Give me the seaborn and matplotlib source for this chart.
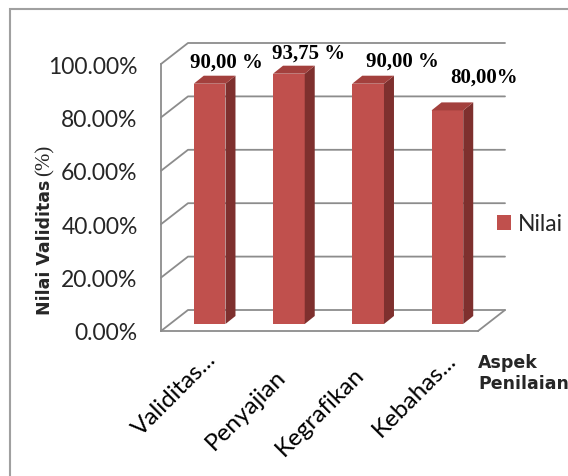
import matplotlib
matplotlib.use("Agg")
import matplotlib.pyplot as plt
import numpy as np
import pandas as pd
import seaborn as sns
from matplotlib.patches import Polygon, Rectangle, Patch
from matplotlib.lines import Line2D
from matplotlib.transforms import IdentityTransform, ScaledTranslation

# ---- data -------------------------------------------------------------
categories = ["Validitas...", "Penyajian", "Kegrafikan", "Kebahas..."]
values = [90.00, 93.75, 90.00, 80.00]
value_suffix = [" %", " %", " %", "%"]
y_ticks = [0, 20, 40, 60, 80, 100]
series_name = "Nilai"
y_title = "Nilai Validitas"
y_unit = "(%)"
x_title = ["Aspek", "Penilaian"]

# ---- layout / style ---------------------------------------------------
W, H, DPI = 568, 477, 100
FRONT, SIDE, TOP = "#C0504D", "#7E302E", "#A3403D"
GRID = "#8C8C8C"
DEPTH = np.array([27.0, 21.0])      # floor depth (px, right / up)
BAR_SHIFT = np.array([9.0, 7.0])    # bars sit a third of the way back
BAR_DEPTH = np.array([10.0, 8.0])   # depth of each column
x_tick_pos = [-0.5, 1.0, 2.5]
label_nudge = [(17, 22), (20, 21.5), (34, 23.5), (37, 33.5)]
cat_nudge = [(5, -18), (-5, -1), (-6, -3), (7, -17)]

sns.set_style("white")
plt.rcParams["font.family"] = ["Lato", "DejaVu Sans"]

fig = plt.figure(figsize=(W / DPI, H / DPI), dpi=DPI)
ident = IdentityTransform()


def img(x, y):
    """image pixel (y down) -> display pixel (y up)"""
    return x, H - y


ax = fig.add_axes([161 / W, (H - 332) / H, 317 / W, 267 / H])
df = pd.DataFrame({"Aspek": categories, "Nilai": values})
sns.barplot(data=df, x="Aspek", y="Nilai", color=FRONT, width=0.4,
            saturation=1, ax=ax, zorder=3)
ax.set_xlim(-0.5, len(categories) - 0.5)
ax.set_ylim(0, 100)
ax.set_xlabel("")
ax.set_ylabel("")

# axis lines and ticks on the front plane
for s in ("top", "right"):
    ax.spines[s].set_visible(False)
for s in ("left", "bottom"):
    ax.spines[s].set_color(GRID)
    ax.spines[s].set_linewidth(1.3)
ax.set_yticks(y_ticks)
ax.set_yticklabels([f"{v:.2f}%" for v in y_ticks])
ax.set_xticks(x_tick_pos)
ax.set_xticklabels([])
ax.tick_params(axis="y", direction="out", length=5.8, width=1.3, color=GRID,
               pad=11, labelsize=16.5)
ax.tick_params(axis="x", direction="out", length=5.0, width=1.3, color=GRID)
ax.set_facecolor("none")

td = ax.transData

# back wall grid lines + left wall diagonals
for v in y_ticks:
    f = td.transform((-0.5, v))
    bl = f + DEPTH
    br = td.transform((len(categories) - 0.5, v)) + DEPTH
    ax.add_line(Line2D([f[0], bl[0], br[0]], [f[1], bl[1], br[1]],
                       transform=ident, color=GRID, lw=1.3, zorder=1,
                       clip_on=False))
# right edge of the floor
fr = td.transform((len(categories) - 0.5, 0))
ax.add_line(Line2D([fr[0], fr[0] + DEPTH[0]], [fr[1], fr[1] + DEPTH[1]],
                   transform=ident, color=GRID, lw=1.3, zorder=1,
                   clip_on=False))

# columns: shift front faces back, then add side and top faces
shift = ScaledTranslation(BAR_SHIFT[0] / DPI, BAR_SHIFT[1] / DPI,
                          fig.dpi_scale_trans)
for i, p in enumerate(ax.patches):
    p.set_transform(td + shift)
    p.set_edgecolor("none")
    p.set_clip_on(False)
    x0, w, h = p.get_x(), p.get_width(), p.get_height()
    lb = td.transform((x0, 0)) + BAR_SHIFT
    rb = td.transform((x0 + w, 0)) + BAR_SHIFT
    lt = td.transform((x0, h)) + BAR_SHIFT
    rt = td.transform((x0 + w, h)) + BAR_SHIFT
    side = [rb, rt, rt + BAR_DEPTH, rb + BAR_DEPTH]
    top = [lt, rt, rt + BAR_DEPTH, lt + BAR_DEPTH]
    ax.add_patch(Polygon(side, closed=True, transform=ident, facecolor=SIDE,
                         edgecolor="none", zorder=3, clip_on=False))
    ax.add_patch(Polygon(top, closed=True, transform=ident, facecolor=TOP,
                         edgecolor="none", zorder=3, clip_on=False))

# value labels
for i, v in enumerate(values):
    c = td.transform((i, v)) + BAR_SHIFT
    dx, dy = label_nudge[i]
    txt = f"{v:.2f}".replace(".", ",") + value_suffix[i]
    fig.text(c[0] + dx, c[1] + dy, txt, transform=ident, ha="center",
             va="center", family="Liberation Serif", fontweight="bold",
             fontsize=15, color="black")

# category labels
for i, cat in enumerate(categories):
    c = td.transform((i, 0))
    dx, dy = cat_nudge[i]
    fig.text(c[0] + dx, H - 367 - dy, cat, transform=ident, rotation=45,
             rotation_mode="anchor", ha="right", va="top", fontsize=17.5,
             color="black")

# axis titles
yt = fig.text(*img(50, 315), y_title, transform=ident, rotation=90,
              rotation_mode="anchor", ha="left", va="baseline",
              family="DejaVu Sans", fontweight="bold", fontsize=12.5)
fig.canvas.draw()
bb = yt.get_window_extent()
fig.text(50, bb.y1 + 4, y_unit, transform=ident, rotation=90,
         rotation_mode="anchor", ha="left", va="baseline",
         family="Liberation Serif", fontsize=15)
fig.text(*img(478, 368), x_title[0], transform=ident, ha="left",
         va="baseline", family="DejaVu Sans", fontweight="bold", fontsize=12.5)
fig.text(*img(478, 389), x_title[1], transform=ident, ha="left",
         va="baseline", family="DejaVu Sans", fontweight="bold", fontsize=12.5)

# legend
ax.legend(handles=[Patch(facecolor=FRONT, edgecolor="none")],
          labels=[series_name], loc="center left",
          bbox_to_anchor=img(497, 225), bbox_transform=ident, frameon=False,
          fontsize=16.5, handlelength=0.61, handleheight=0.61,
          handletextpad=0.3, borderpad=0, borderaxespad=0)

# chart area border
fig.add_artist(Rectangle(img(10, 510), 700, 500, transform=ident,
                         fill=False, edgecolor="#A0A0A0", lw=1.5))

fig.savefig("out.png", dpi=DPI, facecolor="white")
